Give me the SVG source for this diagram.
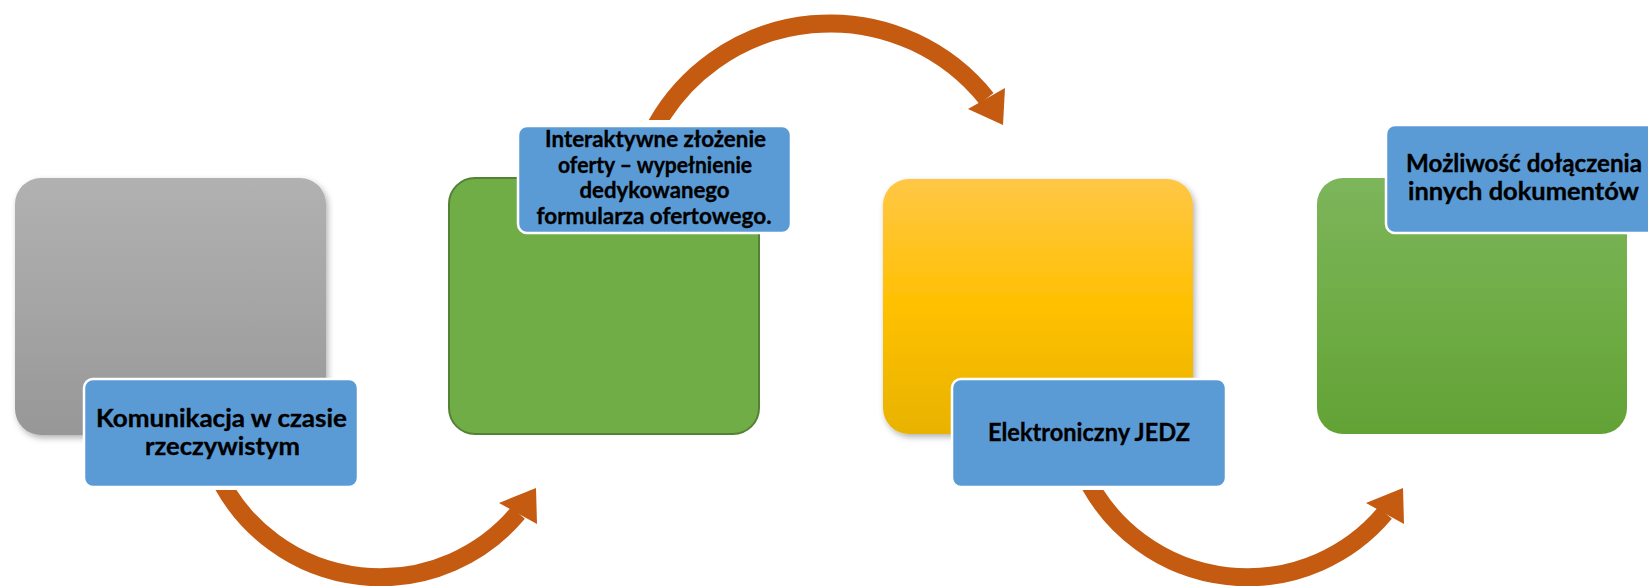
<svg xmlns="http://www.w3.org/2000/svg" width="1648" height="586" viewBox="0 0 1648 586">
<style>
.lbl{fill:#5B9BD5;stroke:#FFFFFF;stroke-width:2.5}
.t{font-family:Lato,"Liberation Sans",sans-serif;font-weight:bold;fill:#000;stroke:#000;stroke-width:0.35;text-anchor:middle}
.arc{fill:none;stroke:#C55A11;stroke-width:18}
.head{fill:#C55A11}
</style>
<defs>
<linearGradient id="gGray" x1="0" y1="0" x2="0" y2="1">
<stop offset="0" stop-color="#B1B1B1"/><stop offset="0.5" stop-color="#A5A5A5"/><stop offset="1" stop-color="#979797"/>
</linearGradient>
<linearGradient id="gYel" x1="0" y1="0" x2="0" y2="1">
<stop offset="0" stop-color="#FFC746"/><stop offset="0.5" stop-color="#FFC000"/><stop offset="1" stop-color="#E8B300"/>
</linearGradient>
<linearGradient id="gGrn" x1="0" y1="0" x2="0" y2="1">
<stop offset="0" stop-color="#7DB55B"/><stop offset="0.5" stop-color="#70AD47"/><stop offset="1" stop-color="#62A235"/>
</linearGradient>
<filter id="sh" x="-10%" y="-10%" width="130%" height="130%">
<feDropShadow dx="2" dy="3" stdDeviation="3" flood-color="#000" flood-opacity="0.3"/>
</filter>
<clipPath id="cBot"><rect x="0" y="490" width="1648" height="100"/></clipPath>
<clipPath id="cTop"><rect x="0" y="0" width="1648" height="120"/></clipPath>
</defs>

<g id="connectors">
<path class="arc" clip-path="url(#cBot)" d="M 220.3 480 A 180 180 0 0 0 518 513"/>
<polygon class="head" points="536,488 499,503 537,524"/>
<path class="arc" clip-path="url(#cTop)" d="M 653.5 130 A 200 200 0 0 1 986.5 98.5"/>
<polygon class="head" points="1005,88 968,109 1003,125"/>
<path class="arc" clip-path="url(#cBot)" d="M 1087.3 480 A 180 180 0 0 0 1385 513"/>
<polygon class="head" points="1403,488 1366,503 1404,524"/>
</g>

<g id="node1">
<rect x="15" y="178" width="311" height="257" rx="26" fill="url(#gGray)" filter="url(#sh)"/>
<rect class="lbl" x="84" y="379" width="274" height="108" rx="9"/>
<text class="t" x="221.5" y="427" font-size="24.5" textLength="251" lengthAdjust="spacingAndGlyphs">Komunikacja w czasie</text>
<text class="t" x="222.5" y="455" font-size="24.5" textLength="155" lengthAdjust="spacingAndGlyphs">rzeczywistym</text>
</g>

<g id="node2">
<rect x="449" y="178" width="310" height="256" rx="26" fill="#70AD47" stroke="#548235" stroke-width="2"/>
<rect class="lbl" x="518" y="126" width="273" height="107" rx="9"/>
<text class="t" x="655.5" y="146.5" font-size="22" textLength="221" lengthAdjust="spacingAndGlyphs">Interaktywne złożenie</text>
<text class="t" x="655" y="172.7" font-size="22" textLength="194" lengthAdjust="spacingAndGlyphs">oferty – wypełnienie</text>
<text class="t" x="654.5" y="198" font-size="22" textLength="150" lengthAdjust="spacingAndGlyphs">dedykowanego</text>
<text class="t" x="654" y="224.3" font-size="22" textLength="235" lengthAdjust="spacingAndGlyphs">formularza ofertowego.</text>
</g>

<g id="node3">
<rect x="883" y="179" width="310" height="255" rx="26" fill="url(#gYel)" filter="url(#sh)"/>
<rect class="lbl" x="952" y="379" width="274" height="108" rx="9"/>
<text class="t" x="1089" y="441" font-size="24" textLength="202" lengthAdjust="spacingAndGlyphs">Elektroniczny JEDZ</text>
</g>

<g id="node4">
<rect x="1317" y="178" width="310" height="256" rx="26" fill="url(#gGrn)"/>
<rect class="lbl" x="1386" y="125" width="274" height="108" rx="9"/>
<text class="t" x="1524" y="172.3" font-size="24" textLength="236" lengthAdjust="spacingAndGlyphs">Możliwość dołączenia</text>
<text class="t" x="1523.5" y="200" font-size="24" textLength="231" lengthAdjust="spacingAndGlyphs">innych dokumentów</text>
</g>
</svg>
